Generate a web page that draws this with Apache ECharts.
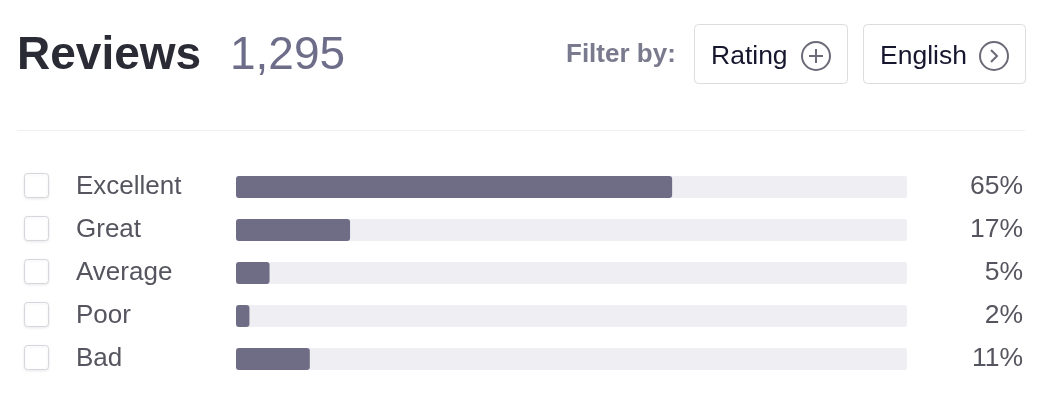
<!DOCTYPE html>
<html>
<head>
<meta charset="utf-8">
<script src="https://cdn.jsdelivr.net/npm/echarts@6/dist/echarts.min.js"></script>
<style>
html,body{margin:0;padding:0;background:#fff;}
#c{width:1051px;height:398px;}
</style>
</head>
<body>
<div id="c"></div>
<script>
const categories = ["Excellent", "Great", "Average", "Poor", "Bad"];
const percentages = [65, 17, 5, 2, 11];
const totalReviews = "1,295";
const titleText = "Reviews";
const filterLabel = "Filter by:";
const filterButtons = ["Rating", "English"];

const FONT = '"Liberation Sans", Arial, Helvetica, sans-serif';
const chart = echarts.init(document.getElementById('c'), null, {renderer: 'canvas'});

const option = {
  backgroundColor: '#ffffff',
  animation: false,
  grid: {left: 236, right: 144, top: 165.5, bottom: 17.5, containLabel: false},
  xAxis: {type: 'value', min: 0, max: 100, show: false},
  yAxis: [
    {
      type: 'category', data: categories, inverse: true,
      axisLine: {show: false}, axisTick: {show: false}, splitLine: {show: false},
      axisLabel: {align: 'left', margin: 160, color: '#55555f', fontSize: 26, fontFamily: FONT, padding: [3, 0, 0, 0]}
    },
    {
      type: 'category', data: percentages.map(v => v + '%'), inverse: true, position: 'right',
      axisLine: {show: false}, axisTick: {show: false}, splitLine: {show: false},
      axisLabel: {align: 'right', margin: 116, color: '#55555f', fontSize: 26.5, fontFamily: FONT, padding: [3, 0, 0, 0]}
    }
  ],
  series: [{
    type: 'bar',
    data: percentages,
    barWidth: 22,
    itemStyle: {color: '#6f6d86', borderRadius: 3},
    showBackground: true,
    backgroundStyle: {color: '#efeff3', borderRadius: 2},
    silent: true
  }],
  graphic: []
};
chart.setOption(option);

// decorative header + checkboxes
const g = [];
g.push({type: 'text', left: 17, top: 33, style: {text: titleText, font: 'bold 46px ' + FONT, fill: '#2b2b36'}});
g.push({type: 'text', left: 230, top: 33, style: {text: totalReviews, font: '46px ' + FONT, fill: '#6d6d89'}});
g.push({type: 'text', left: 566, top: 42, style: {text: filterLabel, font: 'bold 26px ' + FONT, fill: '#7a7a8e'}});
// buttons
const btns = [{x: 694, w: 153, icon: 'plus'}, {x: 863, w: 162, icon: 'chev'}];
btns.forEach((b, i) => {
  g.push({type: 'rect', shape: {x: b.x + 0.5, y: 24.5, width: b.w, height: 59, r: 4},
    style: {fill: '#fff', stroke: '#dcdce0', lineWidth: 1}});
  g.push({type: 'text', x: b.x + 17, y: 57, style: {text: filterButtons[i], font: '26.5px ' + FONT, fill: '#16162e', verticalAlign: 'middle'}});
  const cx = b.x + b.w - 31, cy = 56;
  g.push({type: 'circle', shape: {cx: cx, cy: cy, r: 14}, style: {fill: 'none', stroke: '#6a6a78', lineWidth: 2}});
  if (b.icon === 'plus') {
    g.push({type: 'line', shape: {x1: cx - 7, y1: cy, x2: cx + 7, y2: cy}, style: {stroke: '#6a6a78', lineWidth: 2}});
    g.push({type: 'line', shape: {x1: cx, y1: cy - 7, x2: cx, y2: cy + 7}, style: {stroke: '#6a6a78', lineWidth: 2}});
  } else {
    g.push({type: 'polyline', shape: {points: [[cx - 3, cy - 6], [cx + 3, cy], [cx - 3, cy + 6]]}, style: {fill: 'none', stroke: '#6a6a78', lineWidth: 2}});
  }
});
// separator
g.push({type: 'line', shape: {x1: 17, y1: 130.5, x2: 1025, y2: 130.5}, style: {stroke: '#efeff1', lineWidth: 1}});
// checkboxes aligned with category rows
categories.forEach((c) => {
  const y = chart.convertToPixel({yAxisIndex: 0}, c);
  g.push({type: 'rect', shape: {x: 24.5, y: y - 13.5, width: 24, height: 24, r: 3},
    style: {fill: '#fff', stroke: '#d6d6dc', lineWidth: 1, shadowBlur: 3, shadowOffsetY: 1, shadowColor: 'rgba(0,0,0,0.08)'}});
});
chart.setOption({graphic: g});
</script>
</body>
</html>
